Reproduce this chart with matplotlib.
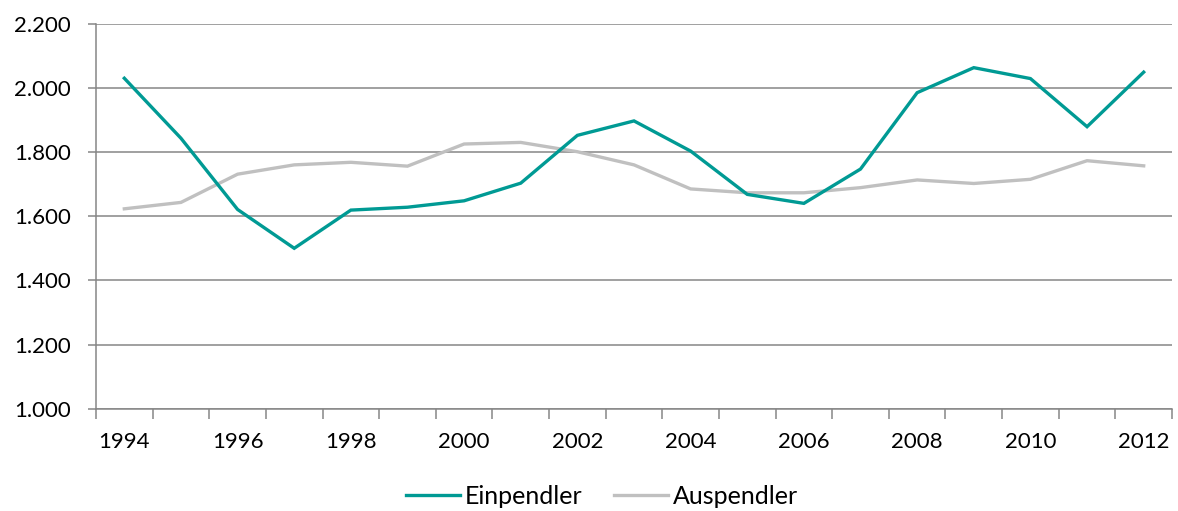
import matplotlib
matplotlib.use("Agg")
import matplotlib.pyplot as plt
from matplotlib.ticker import FuncFormatter, FixedLocator

years = list(range(1994, 2013))
einpendler = [2030, 1843, 1621, 1500, 1619, 1628, 1648, 1703, 1852, 1897,
              1803, 1668, 1640, 1747, 1985, 2063, 2029, 1879, 2049]
auspendler = [1623, 1643, 1731, 1760, 1768, 1756, 1825, 1830, 1801, 1760,
              1685, 1673, 1673, 1689, 1713, 1702, 1715, 1773, 1757]
y_ticks = [1000, 1200, 1400, 1600, 1800, 2000, 2200]

plt.rcParams['font.family'] = ['Lato', 'DejaVu Sans']

teal = '#009A94'
grey_line = '#C0C0C0'
axis_grey = '#868686'

fig = plt.figure(figsize=(11.78, 5.11), dpi=100)
ax = fig.add_axes([0.0815, 0.2002, 0.9134, 0.7534])

x = list(range(len(years)))
ax.plot(x, einpendler, color=teal, lw=2.4, label='Einpendler', solid_joinstyle='miter', zorder=3)
ax.plot(x, auspendler, color=grey_line, lw=2.4, label='Auspendler', solid_joinstyle='miter', zorder=2)

ax.set_xlim(-0.5, len(years) - 0.5)
ax.set_ylim(1000, 2200)

ax.yaxis.set_major_locator(FixedLocator(y_ticks))
ax.yaxis.set_major_formatter(FuncFormatter(lambda v, p: f"{v:,.0f}".replace(",", ".")))
ax.grid(axis='y', color=axis_grey, lw=1.1, zorder=1)
ax.set_axisbelow(True)

# year labels every second year, tick marks at category boundaries
ax.set_xticks(x[::2])
ax.set_xticklabels([str(y) for y in years[::2]])
ax.set_xticks([i - 0.5 for i in range(len(years) + 1)], minor=True)
ax.tick_params(axis='x', which='major', length=0, pad=17, labelsize=16)
ax.tick_params(axis='x', which='minor', length=7, width=1.1, color=axis_grey)
ax.tick_params(axis='y', length=6, width=1.1, color=axis_grey, pad=12, labelsize=16)

for side in ('top', 'right'):
    ax.spines[side].set_visible(False)
for side in ('left', 'bottom'):
    ax.spines[side].set_color(axis_grey)
    ax.spines[side].set_linewidth(1.1)

leg = fig.legend(loc='lower center', bbox_to_anchor=(0.511, -0.038), ncol=2, frameon=False,
                 fontsize=18, handlelength=2.15, handletextpad=0.2, columnspacing=1.25)

fig.savefig('out.png', dpi=100)
